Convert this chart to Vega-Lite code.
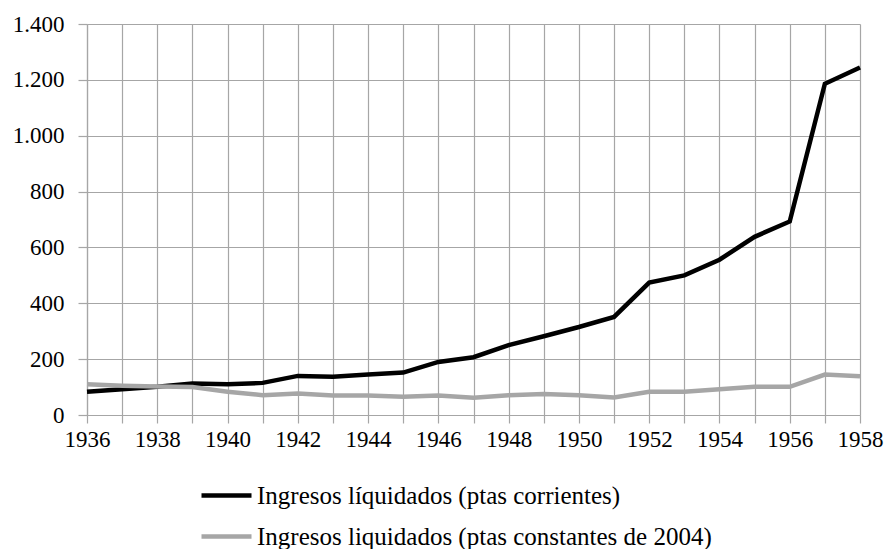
{
  "$schema": "https://vega.github.io/schema/vega-lite/v6.json",
  "width": 773,
  "height": 391,
  "autosize": "none",
  "padding": {"left": 87, "top": 24, "right": 26, "bottom": 134},
  "background": "white",
  "data": {
    "values": [
      {"year": 1936, "value": 83, "serie": "Ingresos líquidados (ptas corrientes)"},
      {"year": 1937, "value": 92, "serie": "Ingresos líquidados (ptas corrientes)"},
      {"year": 1938, "value": 101, "serie": "Ingresos líquidados (ptas corrientes)"},
      {"year": 1939, "value": 113, "serie": "Ingresos líquidados (ptas corrientes)"},
      {"year": 1940, "value": 110, "serie": "Ingresos líquidados (ptas corrientes)"},
      {"year": 1941, "value": 115, "serie": "Ingresos líquidados (ptas corrientes)"},
      {"year": 1942, "value": 140, "serie": "Ingresos líquidados (ptas corrientes)"},
      {"year": 1943, "value": 137, "serie": "Ingresos líquidados (ptas corrientes)"},
      {"year": 1944, "value": 145, "serie": "Ingresos líquidados (ptas corrientes)"},
      {"year": 1945, "value": 152, "serie": "Ingresos líquidados (ptas corrientes)"},
      {"year": 1946, "value": 190, "serie": "Ingresos líquidados (ptas corrientes)"},
      {"year": 1947, "value": 207, "serie": "Ingresos líquidados (ptas corrientes)"},
      {"year": 1948, "value": 250, "serie": "Ingresos líquidados (ptas corrientes)"},
      {"year": 1949, "value": 282, "serie": "Ingresos líquidados (ptas corrientes)"},
      {"year": 1950, "value": 315, "serie": "Ingresos líquidados (ptas corrientes)"},
      {"year": 1951, "value": 351, "serie": "Ingresos líquidados (ptas corrientes)"},
      {"year": 1952, "value": 474, "serie": "Ingresos líquidados (ptas corrientes)"},
      {"year": 1953, "value": 500, "serie": "Ingresos líquidados (ptas corrientes)"},
      {"year": 1954, "value": 556, "serie": "Ingresos líquidados (ptas corrientes)"},
      {"year": 1955, "value": 638, "serie": "Ingresos líquidados (ptas corrientes)"},
      {"year": 1956, "value": 693, "serie": "Ingresos líquidados (ptas corrientes)"},
      {"year": 1957, "value": 1186, "serie": "Ingresos líquidados (ptas corrientes)"},
      {"year": 1958, "value": 1244, "serie": "Ingresos líquidados (ptas corrientes)"},
      {"year": 1936, "value": 110, "serie": "Ingresos liquidados (ptas constantes de 2004)"},
      {"year": 1937, "value": 105, "serie": "Ingresos liquidados (ptas constantes de 2004)"},
      {"year": 1938, "value": 102, "serie": "Ingresos liquidados (ptas constantes de 2004)"},
      {"year": 1939, "value": 100, "serie": "Ingresos liquidados (ptas constantes de 2004)"},
      {"year": 1940, "value": 83, "serie": "Ingresos liquidados (ptas constantes de 2004)"},
      {"year": 1941, "value": 71, "serie": "Ingresos liquidados (ptas constantes de 2004)"},
      {"year": 1942, "value": 77, "serie": "Ingresos liquidados (ptas constantes de 2004)"},
      {"year": 1943, "value": 70, "serie": "Ingresos liquidados (ptas constantes de 2004)"},
      {"year": 1944, "value": 70, "serie": "Ingresos liquidados (ptas constantes de 2004)"},
      {"year": 1945, "value": 65, "serie": "Ingresos liquidados (ptas constantes de 2004)"},
      {"year": 1946, "value": 70, "serie": "Ingresos liquidados (ptas constantes de 2004)"},
      {"year": 1947, "value": 62, "serie": "Ingresos liquidados (ptas constantes de 2004)"},
      {"year": 1948, "value": 71, "serie": "Ingresos liquidados (ptas constantes de 2004)"},
      {"year": 1949, "value": 75, "serie": "Ingresos liquidados (ptas constantes de 2004)"},
      {"year": 1950, "value": 71, "serie": "Ingresos liquidados (ptas constantes de 2004)"},
      {"year": 1951, "value": 63, "serie": "Ingresos liquidados (ptas constantes de 2004)"},
      {"year": 1952, "value": 83, "serie": "Ingresos liquidados (ptas constantes de 2004)"},
      {"year": 1953, "value": 83, "serie": "Ingresos liquidados (ptas constantes de 2004)"},
      {"year": 1954, "value": 92, "serie": "Ingresos liquidados (ptas constantes de 2004)"},
      {"year": 1955, "value": 101, "serie": "Ingresos liquidados (ptas constantes de 2004)"},
      {"year": 1956, "value": 101, "serie": "Ingresos liquidados (ptas constantes de 2004)"},
      {"year": 1957, "value": 145, "serie": "Ingresos liquidados (ptas constantes de 2004)"},
      {"year": 1958, "value": 139, "serie": "Ingresos liquidados (ptas constantes de 2004)"}
    ]
  },
  "mark": {"type": "line", "strokeWidth": 4.5, "strokeJoin": "miter"},
  "encoding": {
    "x": {
      "field": "year",
      "type": "quantitative",
      "scale": {"domain": [1936, 1958], "nice": false, "zero": false},
      "axis": {
        "title": null,
        "values": [1936,1937,1938,1939,1940,1941,1942,1943,1944,1945,1946,1947,1948,1949,1950,1951,1952,1953,1954,1955,1956,1957,1958],
        "labelExpr": "datum.value % 2 == 0 ? format(datum.value, 'd') : ''",
        "grid": true,
        "tickSize": 8,
        "labelPadding": 5,
        "labelFlush": false,
        "labelOverlap": false
      }
    },
    "y": {
      "field": "value",
      "type": "quantitative",
      "scale": {"domain": [0, 1400], "nice": false},
      "axis": {
        "title": null,
        "values": [0, 200, 400, 600, 800, 1000, 1200, 1400],
        "labelExpr": "replace(format(datum.value, ','), ',', '.')",
        "grid": true,
        "tickSize": 9,
        "labelPadding": 14
      }
    },
    "color": {
      "field": "serie",
      "type": "nominal",
      "sort": ["Ingresos líquidados (ptas corrientes)", "Ingresos liquidados (ptas constantes de 2004)"],
      "scale": {
        "domain": ["Ingresos líquidados (ptas corrientes)", "Ingresos liquidados (ptas constantes de 2004)"],
        "range": ["#000000", "#a6a6a6"]
      },
      "legend": {
        "title": null,
        "orient": "none",
        "legendX": 112,
        "legendY": 459,
        "direction": "vertical",
        "symbolType": "stroke",
        "symbolSize": 2500,
        "symbolStrokeWidth": 4.5,
        "labelFontSize": 25,
        "labelFont": "serif",
        "labelOffset": 3,
        "clipHeight": 25,
        "rowPadding": 15,
        "padding": 0,
        "labelLimit": 700
      }
    }
  },
  "config": {
    "font": "serif",
    "view": {"stroke": null},
    "axis": {
      "labelFont": "serif",
      "labelFontSize": 23,
      "labelColor": "#000000",
      "gridColor": "#a6a6a6",
      "gridWidth": 1.2,
      "gridOpacity": 1,
      "domainColor": "#a6a6a6",
      "domainWidth": 1.2,
      "tickColor": "#a6a6a6",
      "tickWidth": 1.2
    },
    "legend": {"labelFont": "serif", "labelColor": "#000000"}
  }
}
